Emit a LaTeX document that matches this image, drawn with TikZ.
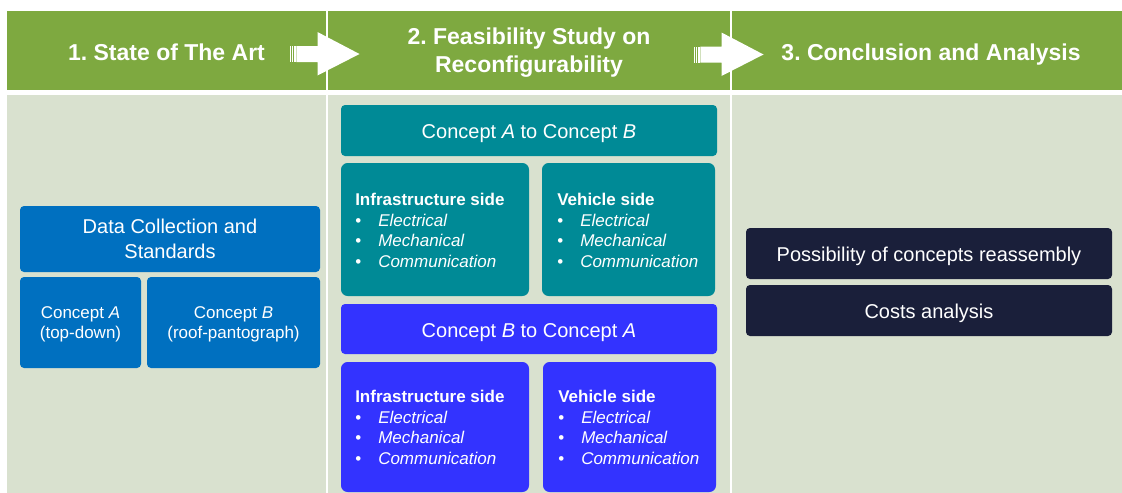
\documentclass[tikz,border=0pt]{standalone}
\usepackage{fontspec}
\setmainfont{Liberation Sans}
\frenchspacing
\definecolor{hdrgreen}{RGB}{126,169,64}
\definecolor{bandgreen}{RGB}{217,225,207}
\definecolor{blueA}{RGB}{0,112,192}
\definecolor{tealB}{RGB}{0,138,150}
\definecolor{blueC}{RGB}{51,51,255}
\definecolor{navyD}{RGB}{26,31,58}
\newcommand{\itm}[1]{\makebox[17.25pt][l]{•}\textit{#1}}
\tikzset{
  hdr/.style={rectangle, inner sep=0pt, fill=hdrgreen, minimum height=59.25pt, text=white,
    font=\bfseries\fontsize{17.25pt}{21pt}\selectfont, align=center},
  hdrone/.style={hdr, text height=15pt, text depth=0.4pt},
  bodycell/.style={rectangle, inner sep=0pt, fill=bandgreen, minimum height=298.5pt},
  box/.style={rectangle, rounded corners=3pt, inner sep=0pt, text=white, align=center},
  ttl/.style={box, font=\fontsize{15pt}{18.75pt}\selectfont},
  ttlone/.style={ttl, text height=12.8pt, text depth=0.6pt},
  sml/.style={box, font=\fontsize{12.75pt}{15pt}\selectfont, text depth=-1.5pt},
  bigbox/.style={rectangle, rounded corners=5pt, inner sep=0pt},
  lst/.style={anchor=base west, inner sep=0pt, text=white, align=left,
    font=\fontsize{12.75pt}{15.3pt}\selectfont},
  arrowshape/.style={fill=white},
}
\begin{document}
\begin{tikzpicture}[x=0.75pt, y=-0.75pt]
\useasboundingbox (0,0) rectangle (1122,493);
% column bodies
\node[bodycell, minimum width=239.25pt] (b1) at (166.5,294) {};
\node[bodycell, minimum width=301.5pt] (b2) at (529,294) {};
\node[bodycell, minimum width=292.5pt] (b3) at (927,294) {};
% headers
\node[hdrone, minimum width=239.25pt] (h1) at (166.5,50.5) {1. State of The Art};
\node[hdr, minimum width=301.5pt, text depth=-4pt] (h2) at (529,50.5) {2. Feasibility Study on\\Reconfigurability};
\node[hdrone, minimum width=292.5pt] (h3) at (927,50.5) {\hspace*{6pt}3. Conclusion and Analysis};
% header arrows
\coordinate (ar1) at (290,54);
\coordinate (ar2) at (694,54.5);
\foreach \a in {ar1,ar2}{
  \begin{scope}[shift={(\a)}]
    \fill[arrowshape] (0,-8) rectangle (1.1,8);
    \fill[arrowshape] (2.2,-8) rectangle (3.3,8);
    \fill[arrowshape] (4.4,-8) rectangle (5.5,8);
    \fill[arrowshape] (6.3,-8) -- (27.5,-8) -- (27.5,-22) -- (69.5,0) -- (27.5,21.5) -- (27.5,8) -- (6.3,8) -- cycle;
  \end{scope}
}
% column 1
\node[ttl, fill=blueA, minimum width=225pt, minimum height=49.5pt] (dcs) at (170,239) {Data Collection and\\Standards};
\node[sml, fill=blueA, minimum width=90.75pt, minimum height=68.25pt] (cA) at (80.5,322.5) {Concept \textit{A}\\(top-down)};
\node[sml, fill=blueA, minimum width=129.75pt, minimum height=68.25pt] (cB) at (233.5,322.5) {Concept \textit{B}\\(roof-pantograph)};
% column 2
\node[ttlone, fill=tealB, minimum width=282pt, minimum height=38.25pt] (ab) at (529,130.5) {Concept \textit{A} to Concept \textit{B}};
\node[bigbox, fill=tealB, minimum width=141pt, minimum height=99.75pt] (abI) at (435,229.5) {};
\node[bigbox, fill=tealB, minimum width=129.75pt, minimum height=99.75pt] (abV) at (628.5,229.5) {};
\node[lst] (abIt) at (355,267) {\textbf{Infrastructure side}\\\itm{Electrical}\\\itm{Mechanical}\\\itm{Communication}};
\node[lst] (abVt) at (557,267) {\textbf{Vehicle side}\\\itm{Electrical}\\\itm{Mechanical}\\\itm{Communication}};
\node[ttlone, fill=blueC, minimum width=282pt, minimum height=37.5pt] (ba) at (529,329) {Concept \textit{B} to Concept \textit{A}};
\node[bigbox, fill=blueC, minimum width=141pt, minimum height=97.5pt] (baI) at (435,427) {};
\node[bigbox, fill=blueC, minimum width=129.75pt, minimum height=97.5pt] (baV) at (629.5,427) {};
\node[lst] (baIt) at (355,464) {\textbf{Infrastructure side}\\\itm{Electrical}\\\itm{Mechanical}\\\itm{Communication}};
\node[lst] (baVt) at (558,464) {\textbf{Vehicle side}\\\itm{Electrical}\\\itm{Mechanical}\\\itm{Communication}};
% column 3
\node[ttlone, fill=navyD, minimum width=274.5pt, minimum height=38.25pt] (poss) at (929,253.5) {Possibility of concepts reassembly};
\node[ttlone, fill=navyD, minimum width=274.5pt, minimum height=38.25pt] (cost) at (929,310.5) {Costs analysis};
\end{tikzpicture}
\end{document}
